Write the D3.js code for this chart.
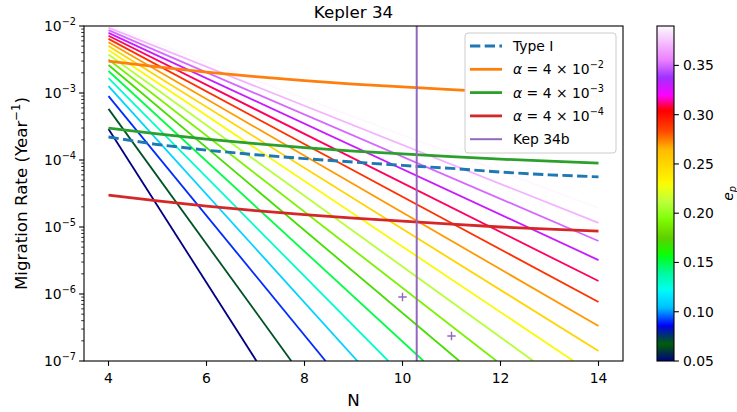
<!DOCTYPE html>
<html>
<head>
<meta charset="utf-8">
<script src="https://cdn.jsdelivr.net/npm/d3@7"></script>
<style>
  body { margin: 0; background: #fff; }
  svg { display: block; font-family: "DejaVu Sans", sans-serif; }
</style>
</head>
<body>
<svg id="chart" width="737" height="412"></svg>
<script>
// ---- data ----------------------------------------------------------------
const nGrid = [4, 5, 6, 7, 8, 9, 10, 11, 12, 13, 14];
const typeI     = [2.2e-4, 1.7e-4, 1.4e-4, 1.2e-4, 1.05e-4, 9.3e-5, 8.3e-5, 7.5e-5, 6.6e-5, 6.0e-5, 5.6e-5];
const alphaHigh = [3.0e-3, 2.45e-3, 2.05e-3, 1.75e-3, 1.53e-3, 1.36e-3, 1.23e-3, 1.12e-3, 1.03e-3, 9.5e-4, 8.8e-4];
const alphaMid  = [3.0e-4, 2.45e-4, 2.05e-4, 1.75e-4, 1.53e-4, 1.36e-4, 1.23e-4, 1.12e-4, 1.03e-4, 9.6e-5, 9.0e-5];
const alphaLow  = [3.0e-5, 2.45e-5, 2.05e-5, 1.75e-5, 1.53e-5, 1.36e-5, 1.22e-5, 1.1e-5, 1.0e-5, 9.3e-6, 8.7e-6];

// planet eccentricity of each resonance-overlap curve
const eccentricities = [0.05, 0.07, 0.09, 0.11, 0.13, 0.15, 0.17, 0.19, 0.21,
                        0.23, 0.25, 0.27, 0.29, 0.31, 0.33, 0.35, 0.37, 0.39];
// [N, rate] end points of each curve (straight in log space)
const eccRates = [
  [[4, 2.9e-4],  [7.02, 1e-7]],
  [[4, 5.8e-4],  [7.73, 1e-7]],
  [[4, 9.0e-4],  [8.43, 1e-7]],
  [[4, 1.27e-3], [9.08, 1e-7]],
  [[4, 1.67e-3], [9.71, 1e-7]],
  [[4, 2.13e-3], [10.43, 1e-7]],
  [[4, 2.62e-3], [11.16, 1e-7]],
  [[4, 3.16e-3], [11.92, 1e-7]],
  [[4, 3.76e-3], [12.67, 1e-7]],
  [[4, 4.39e-3], [13.49, 1e-7]],
  [[4, 5.03e-3], [14, 1.41e-7]],
  [[4, 5.71e-3], [14, 3.33e-7]],
  [[4, 6.42e-3], [14, 7.6e-7]],
  [[4, 7.14e-3], [14, 1.56e-6]],
  [[4, 7.89e-3], [14, 3.21e-6]],
  [[4, 8.66e-3], [14, 6.18e-6]],
  [[4, 9.44e-3], [14, 1.15e-5]],
  [[4, 1.02e-2], [14, 1.92e-5]]
];
const kep34bN = 10.29;
const kep34bPoints = [[10, 9.0e-7], [11, 2.36e-7]];

const xTicks = [4, 6, 8, 10, 12, 14];
const yExponents = [-7, -6, -5, -4, -3, -2];
const eccDomain = [0.05, 0.39];
const cbarTicks = [0.05, 0.10, 0.15, 0.20, 0.25, 0.30, 0.35];

// ---- gist_ncar colormap --------------------------------------------------
const ncar = {
  r: [[0,0],[0.3098,0],[0.3725,0.3993],[0.4235,0.5003],[0.5333,1],[0.7922,1],[0.8471,0.6218],[0.8980,0.9235],[1,0.9961]],
  g: [[0,0],[0.0510,0.3722],[0.1059,0],[0.1569,0.7202],[0.1608,0.7537],[0.1647,0.7752],[0.2157,1],[0.2588,0.9804],
      [0.2706,0.9804],[0.3176,1],[0.3686,0.8081],[0.4275,1],[0.5216,1],[0.6314,0.7292],[0.6863,0.2796],[0.7451,0],
      [0.7922,0],[0.8431,0.1753],[0.8980,0.5],[1,0.9725]],
  b: [[0,0.502],[0.0510,0.0222],[0.1098,1],[0.2039,1],[0.2627,0.6145],[0.3216,0],[0.4157,0],[0.4745,0.2342],
      [0.5333,0],[0.7490,0],[0.7922,1],[0.8471,1],[0.8980,1],[1,0.9961]]
};
function channel(pts, t) {
  for (let i = 1; i < pts.length; i++) {
    if (t <= pts[i][0]) {
      const [x0, y0] = pts[i - 1], [x1, y1] = pts[i];
      return y0 + (y1 - y0) * (t - x0) / (x1 - x0);
    }
  }
  return pts[pts.length - 1][1];
}
function gistNcar(t) {
  t = Math.max(0, Math.min(1, t));
  const c = k => Math.round(255 * channel(ncar[k], t));
  return `rgb(${c("r")},${c("g")},${c("b")})`;
}
const eccNorm = d3.scaleLinear().domain(eccDomain).range([0, 1]).clamp(true);
const eccColor = e => gistNcar(eccNorm(e));

// ---- layout --------------------------------------------------------------
const svg = d3.select("#chart");
const P = { left: 84, right: 623, top: 26, bottom: 361 };
const x = d3.scaleLinear().domain([3.5, 14.5]).range([P.left, P.right]);
const y = d3.scaleLog().domain([1e-7, 1e-2]).range([P.bottom, P.top]);
const FS = 13.9, FL = 16.7;

svg.append("defs").append("clipPath").attr("id", "plotclip")
  .append("rect").attr("x", P.left).attr("y", P.top)
  .attr("width", P.right - P.left).attr("height", P.bottom - P.top);

const plot = svg.append("g").attr("clip-path", "url(#plotclip)");
const line = d3.line().x(d => x(d[0])).y(d => y(d[1]));

plot.selectAll("path.ecc").data(eccRates).join("path")
  .attr("class", "ecc")
  .attr("d", line)
  .attr("fill", "none")
  .attr("stroke", (d, i) => eccColor(eccentricities[i]))
  .attr("stroke-width", 1.8);

const zipN = arr => nGrid.map((n, i) => [n, arr[i]]);
const C = { blue: "#1f77b4", orange: "#ff7f0e", green: "#2ca02c", red: "#d62728", purple: "#9467bd" };

plot.append("path").attr("d", line(zipN(typeI))).attr("fill", "none")
  .attr("stroke", C.blue).attr("stroke-width", 2.9).attr("stroke-dasharray", "10.3,4.4");
plot.append("path").attr("d", line(zipN(alphaHigh))).attr("fill", "none")
  .attr("stroke", C.orange).attr("stroke-width", 2.8);
plot.append("path").attr("d", line(zipN(alphaMid))).attr("fill", "none")
  .attr("stroke", C.green).attr("stroke-width", 2.8);
plot.append("path").attr("d", line(zipN(alphaLow))).attr("fill", "none")
  .attr("stroke", C.red).attr("stroke-width", 2.8);

plot.append("line")
  .attr("x1", x(kep34bN)).attr("x2", x(kep34bN))
  .attr("y1", P.top).attr("y2", P.bottom)
  .attr("stroke", C.purple).attr("stroke-width", 2);

plot.selectAll("path.kep").data(kep34bPoints).join("path")
  .attr("class", "kep")
  .attr("d", d => {
    const cx = x(d[0]), cy = y(d[1]), r = 4.2;
    return `M${cx - r},${cy}H${cx + r}M${cx},${cy - r}V${cy + r}`;
  })
  .attr("stroke", C.purple).attr("stroke-width", 1.4).attr("fill", "none");

// ---- axes ----------------------------------------------------------------
const axisColor = "#000";
svg.append("rect").attr("x", P.left).attr("y", P.top)
  .attr("width", P.right - P.left).attr("height", P.bottom - P.top)
  .attr("fill", "none").attr("stroke", axisColor).attr("stroke-width", 1.1);

// x axis
const xg = svg.append("g");
xTicks.forEach(t => {
  xg.append("line").attr("x1", x(t)).attr("x2", x(t))
    .attr("y1", P.bottom).attr("y2", P.bottom + 4.9)
    .attr("stroke", axisColor).attr("stroke-width", 1.1);
  xg.append("text").attr("x", x(t)).attr("y", 383)
    .attr("text-anchor", "middle").attr("font-size", FS).text(t);
});
svg.append("text").attr("x", (P.left + P.right) / 2).attr("y", 406)
  .attr("text-anchor", "middle").attr("font-size", FL).text("N");

// y axis (log): major decades + minor ticks
const yg = svg.append("g");
const minor = [];
yExponents.slice(0, -1).forEach(e => { for (let m = 2; m <= 9; m++) minor.push(m * Math.pow(10, e)); });
minor.forEach(v => {
  yg.append("line").attr("x1", P.left - 2.8).attr("x2", P.left)
    .attr("y1", y(v)).attr("y2", y(v))
    .attr("stroke", axisColor).attr("stroke-width", 0.8);
});
yExponents.forEach(e => {
  const v = Math.pow(10, e), yy = y(v);
  yg.append("line").attr("x1", P.left - 4.9).attr("x2", P.left)
    .attr("y1", yy).attr("y2", yy)
    .attr("stroke", axisColor).attr("stroke-width", 1.1);
  const t = yg.append("text").attr("x", 76).attr("y", yy + 5)
    .attr("text-anchor", "end").attr("font-size", FS);
  t.append("tspan").text("10");
  t.append("tspan").attr("font-size", 9.7).attr("dy", -6).text("\u2212" + Math.abs(e));
});
const yl = svg.append("text")
  .attr("transform", `translate(27,${(P.top + P.bottom) / 2}) rotate(-90)`)
  .attr("text-anchor", "middle").attr("font-size", FL);
yl.append("tspan").text("Migration Rate (Year");
yl.append("tspan").attr("font-size", 11.7).attr("dy", -7).text("\u22121");
yl.append("tspan").attr("dy", 7).text(")");

// title
svg.append("text").attr("x", (P.left + P.right) / 2).attr("y", 18)
  .attr("text-anchor", "middle").attr("font-size", FL).text("Kepler 34");

// ---- legend --------------------------------------------------------------
const lg = svg.append("g");
lg.append("rect").attr("x", 465).attr("y", 33).attr("width", 151).attr("height", 120)
  .attr("rx", 3).attr("fill", "#fff").attr("fill-opacity", 0.96)
  .attr("stroke", "#cccccc").attr("stroke-width", 1);
const legendItems = [
  { color: C.blue, dash: "10.3,4.4", width: 2.9, label: [["Type I"]] },
  { color: C.orange, width: 2.8, label: [["\u03b1", "i"], [" = 4 \u00d7 10"], ["\u22122", "sup"]] },
  { color: C.green, width: 2.8, label: [["\u03b1", "i"], [" = 4 \u00d7 10"], ["\u22123", "sup"]] },
  { color: C.red, width: 2.8, label: [["\u03b1", "i"], [" = 4 \u00d7 10"], ["\u22124", "sup"]] },
  { color: C.purple, width: 2, label: [["Kep 34b"]] }
];
legendItems.forEach((it, i) => {
  const cy = 46 + i * 23.3;
  lg.append("line").attr("x1", 470).attr("x2", 502).attr("y1", cy).attr("y2", cy)
    .attr("stroke", it.color).attr("stroke-width", it.width)
    .attr("stroke-dasharray", it.dash || null);
  const t = lg.append("text").attr("x", 513).attr("y", cy + 5).attr("font-size", FS);
  it.label.forEach(([s, kind]) => {
    const sp = t.append("tspan").text(s);
    if (kind === "i") sp.attr("font-style", "italic");
    if (kind === "sup") sp.attr("font-size", 9.7).attr("dy", -6);
  });
});

// ---- colorbar ------------------------------------------------------------
const cb = { x: 657, w: 17, top: P.top, bottom: P.bottom };
const cy = d3.scaleLinear().domain(eccDomain).range([cb.bottom, cb.top]);
const grad = svg.select("defs").append("linearGradient").attr("id", "eccgrad")
  .attr("x1", 0).attr("y1", 1).attr("x2", 0).attr("y2", 0);
d3.range(0, 1.0001, 0.005).forEach(t => {
  grad.append("stop").attr("offset", t).attr("stop-color", gistNcar(t));
});
svg.append("rect").attr("x", cb.x).attr("y", cb.top).attr("width", cb.w)
  .attr("height", cb.bottom - cb.top).attr("fill", "url(#eccgrad)")
  .attr("stroke", "#000").attr("stroke-width", 1.1);
cbarTicks.forEach(v => {
  svg.append("line").attr("x1", cb.x + cb.w).attr("x2", cb.x + cb.w + 4.9)
    .attr("y1", cy(v)).attr("y2", cy(v)).attr("stroke", "#000").attr("stroke-width", 1.1);
  svg.append("text").attr("x", cb.x + cb.w + 9).attr("y", cy(v) + 5)
    .attr("font-size", FS).text(v.toFixed(2));
});
const el = svg.append("text")
  .attr("transform", `translate(733,${(cb.top + cb.bottom) / 2}) rotate(-90)`)
  .attr("text-anchor", "middle").attr("font-size", FS).attr("font-style", "italic");
el.append("tspan").text("e");
el.append("tspan").attr("font-size", 9.7).attr("dy", 3).text("p");
</script>
</body>
</html>
